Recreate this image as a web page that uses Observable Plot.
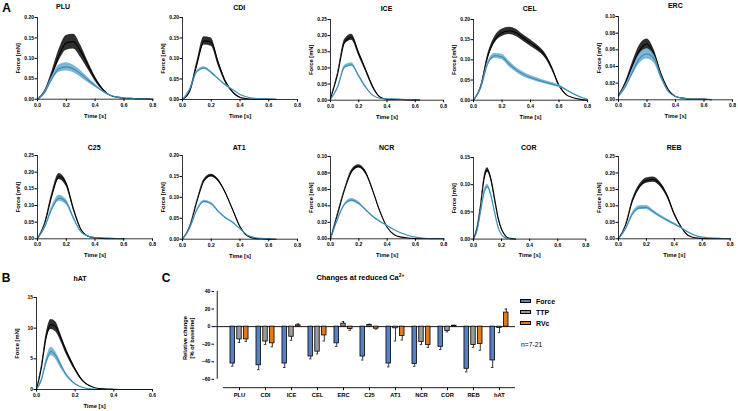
<!DOCTYPE html>
<html><head><meta charset="utf-8">
<script src="https://cdn.jsdelivr.net/npm/d3@7"></script>
<script src="https://cdn.jsdelivr.net/npm/@observablehq/plot@0.6"></script>
<style>
body{margin:0;background:#fff;}
#root{position:relative;width:738px;height:411px;overflow:hidden;font-family:"Liberation Sans",Arial,sans-serif;color:#000;}
</style></head><body><div id="root"></div>
<script>
// ---------- DATA ----------
const t05 = [0,0.05,0.1,0.15,0.2,0.25,0.3,0.35,0.4,0.45,0.5,0.55,0.6,0.65,0.7,0.75,0.8];
const t025 = [0,0.025,0.05,0.075,0.1,0.125,0.15,0.175,0.2,0.225,0.25,0.275,0.3];
const tHat = [0,0.025,0.05,0.075,0.1,0.125,0.15,0.175,0.2,0.225,0.25,0.275,0.3,0.35,0.4,0.5,0.6];

const pluCtrl    = [0,0.018,0.06,0.108,0.138,0.141,0.117,0.083,0.05,0.025,0.01,0.005,0.003,0.002,0.001,0.001,0];
const pluCtrlSem = [0,0.003,0.008,0.014,0.018,0.018,0.015,0.01,0.006,0.003,0.001,0,0,0,0,0,0];
const pluLow     = [0,0.016,0.05,0.075,0.079,0.074,0.062,0.047,0.033,0.02,0.01,0.005,0.003,0.002,0.001,0.001,0];
const pluLowSem  = [0,0.002,0.006,0.009,0.01,0.009,0.008,0.006,0.004,0.002,0.001,0,0,0,0,0,0];

const cdiCtrl    = [0,0.02,0.085,0.143,0.14,0.088,0.043,0.018,0.005,0.002,0.001,0.001,0.001,0];
const cdiCtrlSem = [0,0.002,0.007,0.01,0.01,0.007,0.004,0.002,0.001,0,0,0,0,0];
const cdiLow     = [0,0.025,0.068,0.077,0.066,0.05,0.035,0.024,0.012,0.006,0.003,0.002,0.001,0.001];
const cdiLowSem  = [0,0.001,0.002,0.003,0.003,0.002,0.002,0.001,0.001,0,0,0,0,0];

const iceT       = [0,0.05,0.1,0.15,0.2,0.25,0.3,0.35,0.4,0.45,0.5,0.55,0.6,0.63];
const iceCtrl    = [0.005,0.08,0.18,0.195,0.145,0.093,0.041,0.01,0.003,0.002,0.002,0.001,0.001,0.001];
const iceCtrlSem = [0,0.004,0.008,0.009,0.008,0.006,0.004,0.001,0,0,0,0,0,0];
const iceLow     = [0.002,0.04,0.103,0.11,0.075,0.04,0.015,0.006,0.004,0.004,0.003,0.002,0.001,0.001];
const iceLowSem  = [0,0.002,0.005,0.006,0.005,0.003,0.001,0,0,0,0,0,0,0];

const celCtrl    = [0,0.033,0.108,0.15,0.167,0.172,0.167,0.154,0.142,0.129,0.112,0.08,0.037,0.014,0.006,0.002,0];
const celCtrlSem = [0,0.002,0.006,0.008,0.009,0.009,0.009,0.008,0.008,0.007,0.006,0.005,0.003,0.001,0,0,0];
const celLow     = [0,0.03,0.09,0.11,0.107,0.09,0.075,0.064,0.056,0.05,0.045,0.04,0.035,0.026,0.016,0.008,0.002];
const celLowSem  = [0,0.002,0.005,0.006,0.007,0.007,0.006,0.006,0.005,0.005,0.004,0.004,0.003,0.002,0.001,0.001,0];

const ercCtrl    = [0.005,0.02,0.042,0.06,0.067,0.055,0.03,0.012,0.004,0.002,0.001,0.001,0.001,0];
const ercCtrlSem = [0,0.002,0.004,0.006,0.006,0.005,0.003,0.001,0,0,0,0,0,0];
const ercLow     = [0.004,0.016,0.034,0.05,0.055,0.049,0.027,0.01,0.004,0.002,0.001,0.001,0.001,0];
const ercLowSem  = [0,0.002,0.004,0.006,0.006,0.005,0.003,0.001,0,0,0,0,0,0];

const c25Ctrl    = [0,0.045,0.13,0.187,0.165,0.09,0.03,0.008,0.003,0.001,0,0,0];
const c25CtrlSem = [0,0.003,0.007,0.009,0.008,0.005,0.002,0.001,0,0,0,0,0];
const c25Low     = [0,0.035,0.09,0.122,0.11,0.063,0.022,0.008,0.004,0.003,0.002,0.001,0];
const c25LowSem  = [0,0.003,0.007,0.009,0.008,0.005,0.002,0.001,0,0,0,0,0];

const at1Ctrl    = [0,0.03,0.09,0.14,0.152,0.14,0.11,0.07,0.03,0.008,0.002,0.001,0,0];
const at1CtrlSem = [0,0.001,0.002,0.003,0.003,0.003,0.002,0.002,0.001,0,0,0,0,0];
const at1Low     = [0,0.027,0.07,0.09,0.085,0.066,0.051,0.04,0.025,0.01,0.004,0.002,0.001,0];
const at1LowSem  = [0,0.001,0.002,0.003,0.003,0.002,0.002,0.002,0.001,0,0,0,0,0];

const ncrCtrl    = [0,0.03,0.06,0.082,0.088,0.08,0.058,0.033,0.014,0.005,0.002,0.001,0,0,0,0,0];
const ncrCtrlSem = [0,0.001,0.001,0.002,0.002,0.002,0.001,0.001,0,0,0,0,0,0,0,0,0];
const ncrLow     = [0,0.024,0.042,0.047,0.043,0.035,0.027,0.021,0.016,0.011,0.007,0.004,0.002,0.001,0,0,0];
const ncrLowSem  = [0,0.001,0.001,0.002,0.002,0.001,0.001,0.001,0,0,0,0,0,0,0,0,0];

const corCtrl    = [0,0.02,0.06,0.11,0.127,0.11,0.075,0.04,0.018,0.007,0.002,0.001,0];
const corCtrlSem = [0,0.001,0.002,0.004,0.004,0.004,0.003,0.002,0.001,0,0,0,0];
const corLow     = [0,0.015,0.05,0.085,0.097,0.08,0.05,0.022,0.008,0.003,0.001,0,0];
const corLowSem  = [0,0.001,0.002,0.004,0.004,0.003,0.002,0.001,0,0,0,0,0];

const rebCtrl    = [0,0.04,0.115,0.158,0.177,0.18,0.165,0.13,0.075,0.035,0.01,0.003,0.001,0,0,0,0];
const rebCtrlSem = [0,0.002,0.005,0.007,0.008,0.008,0.007,0.006,0.004,0.002,0.001,0,0,0,0,0,0];
const rebLow     = [0,0.03,0.075,0.094,0.095,0.082,0.068,0.056,0.045,0.033,0.02,0.01,0.005,0.003,0.002,0.001,0];
const rebLowSem  = [0,0.002,0.005,0.006,0.006,0.005,0.004,0.004,0.003,0.002,0.001,0.001,0,0,0,0,0];

const hatCtrl    = [0,3.5,8.5,10.6,10.2,8.5,6.5,4.8,3.3,2.0,1.1,0.6,0.3,0.1,0.05,0,0];
const hatCtrlSem = [0,0.3,0.6,0.8,0.8,0.6,0.5,0.4,0.3,0.2,0.1,0.05,0,0,0,0,0];
const hatLow     = [0,1.5,4.5,6.2,5.5,4.0,2.6,1.6,0.9,0.5,0.25,0.1,0.05,0,0,0,0];
const hatLowSem  = [0,0.2,0.5,0.7,0.6,0.5,0.3,0.2,0.1,0.05,0,0,0,0,0,0,0];

// Panel C
const cats     = ["PLU","CDI","ICE","CEL","ERC","C25","AT1","NCR","COR","REB","hAT"];
const forceVal = [-42,-44,-42,-34,-19,-34,-42,-42.5,-23,-48,-38.5];
const forceErr = [3,5,4.5,2.7,3.4,4,3.8,2.6,3,3.5,8];
const ttpVal   = [-14.5,-17,-11.5,-28.5,3.4,1.9,-1.9,-17.5,-4.9,-21,-1.5];
const ttpErr   = [3.5,3.5,4,2.5,2.3,0.8,14.4,3,1.1,2.5,5.3];
const rvcVal   = [-14.5,-19,1.5,-10,-2.7,-2.3,-10.6,-21,1,-19.8,16];
const rvcErr   = [2.3,4,1.5,6.3,1.5,0.5,4.6,2.6,0.5,7,4];
const seriesNames  = ["Force","TTP","RVc"];
const seriesColors = ["#5b7fc3","#9b9b9b","#e0791f"];

// ---------- LAYOUT HELPERS ----------
const FONT = '"Liberation Sans", Arial, sans-serif';
const root = document.getElementById("root");
function place(el, x, y){ el.style.position="absolute"; el.style.left=x+"px"; el.style.top=y+"px"; root.appendChild(el); }
function label(html, x, y, {size=7, weight="bold", anchor="middle"}={}){
  const d = document.createElement("div");
  d.innerHTML = html;
  const tx = anchor==="middle" ? "-50%" : anchor==="start" ? "0" : "-100%";
  d.style.cssText = `position:absolute;left:${x}px;top:${y}px;font-size:${size}px;font-weight:${weight};white-space:nowrap;line-height:1;transform:translate(${tx},-50%);`;
  root.appendChild(d);
}

function twitch(p){
  const [x0,x1,y0,y1] = p.box;
  const mL=30, mR=10, mT=6, mB=22;
  const rows = p.t.map((t,i)=>({t, c:p.ctrl[i], cs:p.ctrlSem[i], l:p.low[i], ls:p.lowSem[i]}));
  const yTicks = d3.range(0, p.yMax + p.yStep/2, p.yStep);
  const xTicks = d3.range(0, p.xMax + 0.1, 0.2);
  const svg = Plot.plot({
    width:(x1-x0)+mL+mR, height:(y1-y0)+mT+mB,
    marginLeft:mL, marginRight:mR, marginTop:mT, marginBottom:mB,
    style:{fontFamily:FONT, fontSize:"5px", fontWeight:"bold", background:"transparent", overflow:"visible"},
    x:{domain:[0,p.xMax]}, y:{domain:[0,p.yMax]},
    marks:[
      Plot.areaY(rows,{x:"t", y1:d=>Math.max(0,d.c-d.cs), y2:d=>d.c+d.cs, fill:"#2e2e2e", curve:"monotone-x"}),
      Plot.lineY(rows,{x:"t", y:"c", stroke:"#000", strokeWidth:1.1, curve:"monotone-x"}),
      Plot.areaY(rows,{x:"t", y1:d=>Math.max(0,d.l-d.ls), y2:d=>d.l+d.ls, fill:"#6eb0d2", fillOpacity:0.9, curve:"monotone-x"}),
      Plot.lineY(rows,{x:"t", y:"l", stroke:"#3a8ab4", strokeWidth:1.1, curve:"monotone-x"}),
      Plot.ruleX([0],{stroke:"#000", strokeWidth:0.8}),
      Plot.ruleY([0],{stroke:"#000", strokeWidth:0.8}),
      Plot.axisY({ticks:yTicks, tickFormat:p.yFmt, tickSize:2.5, tickPadding:1, label:null}),
      Plot.axisX({ticks:xTicks, tickFormat:d3.format(".1f"), tickSize:2.5, tickPadding:1.5, label:null}),
      Plot.text(["Force [mN]"],{text:d=>d, frameAnchor:"left", rotate:-90, dx:-19, textAnchor:"middle", lineAnchor:"middle", fontSize:5.8}),
      Plot.text(["Time [s]"],{text:d=>d, frameAnchor:"bottom", dy:16.5, textAnchor:"middle", lineAnchor:"middle", fontSize:5.8})
    ]
  });
  place(svg, x0-mL, y0-mT);
  label(p.title, p.titleX ?? (x0+x1)/2, p.titleY, {size:7});
}

const f2 = d3.format(".2f");
const panels = [
  {title:"PLU", t:t05, ctrl:pluCtrl, ctrlSem:pluCtrlSem, low:pluLow, lowSem:pluLowSem, yMax:0.2, yStep:0.05, yFmt:f2, xMax:0.8, box:[36.7,152,17.3,99], titleX:63, titleY:5.5},
  {title:"CDI", t:t05.slice(0,14), ctrl:cdiCtrl, ctrlSem:cdiCtrlSem, low:cdiLow, lowSem:cdiLowSem, yMax:0.2, yStep:0.05, yFmt:f2, xMax:0.8, box:[181.7,296.7,17.3,99.3], titleY:6.5},
  {title:"ICE", t:iceT, ctrl:iceCtrl, ctrlSem:iceCtrlSem, low:iceLow, lowSem:iceLowSem, yMax:0.25, yStep:0.05, yFmt:f2, xMax:0.8, box:[330,443,19.3,100], titleY:7.5},
  {title:"CEL", t:t05, ctrl:celCtrl, ctrlSem:celCtrlSem, low:celLow, lowSem:celLowSem, yMax:0.2, yStep:0.05, yFmt:f2, xMax:0.8, box:[472.7,586.7,19.3,100], titleY:7.5},
  {title:"ERC", t:t05.slice(0,14), ctrl:ercCtrl, ctrlSem:ercCtrlSem, low:ercLow, lowSem:ercLowSem, yMax:0.1, yStep:0.02, yFmt:f2, xMax:0.8, box:[618.3,732.3,16,99.3], titleY:4.5},
  {title:"C25", t:t05.slice(0,13), ctrl:c25Ctrl, ctrlSem:c25CtrlSem, low:c25Low, lowSem:c25LowSem, yMax:0.25, yStep:0.05, yFmt:f2, xMax:0.8, box:[36.7,151.7,155,238.3], titleY:147},
  {title:"AT1", t:t05.slice(0,14), ctrl:at1Ctrl, ctrlSem:at1CtrlSem, low:at1Low, lowSem:at1LowSem, yMax:0.2, yStep:0.05, yFmt:f2, xMax:0.8, box:[181.7,296.7,155,238.7], titleY:147},
  {title:"NCR", t:t05, ctrl:ncrCtrl, ctrlSem:ncrCtrlSem, low:ncrLow, lowSem:ncrLowSem, yMax:0.1, yStep:0.02, yFmt:f2, xMax:0.8, box:[330,443.3,156,238.3], titleY:147},
  {title:"COR", t:t025, ctrl:corCtrl, ctrlSem:corCtrlSem, low:corLow, lowSem:corLowSem, yMax:0.15, yStep:0.05, yFmt:f2, xMax:0.8, box:[472.7,585,156.7,238.3], titleY:147},
  {title:"REB", t:t05, ctrl:rebCtrl, ctrlSem:rebCtrlSem, low:rebLow, lowSem:rebLowSem, yMax:0.25, yStep:0.05, yFmt:f2, xMax:0.8, box:[618.3,730,156,238.3], titleY:147},
  {title:"hAT", t:tHat, ctrl:hatCtrl, ctrlSem:hatCtrlSem, low:hatLow, lowSem:hatLowSem, yMax:15, yStep:5, yFmt:d3.format("d"), xMax:0.6, box:[35.7,151.7,297.3,389.3], titleX:80, titleY:278}
];
panels.forEach(twitch);

// ---------- PANEL C ----------
(function(){
  const fx0=214, fx1=515, fy0=290.7, fy1=386.9;
  const mL=34, mR=4, mT=6, mB=16;
  const inL = 9;
  const bw = (fx1-fx0-inL)/cats.length;
  const barW = 5, capW = 3, off = 6.8;
  const vals = [forceVal, ttpVal, rvcVal], errs = [forceErr, ttpErr, rvcErr];
  const marks = [
    Plot.ruleY([0],{stroke:"#000", strokeWidth:0.9}),
    Plot.ruleY([-69.5],{stroke:"#000", strokeWidth:0.9, insetLeft:inL}),
    Plot.ruleX([cats[0]],{x:d=>d, y1:-60, y2:40, dx:-(inL+bw/2), stroke:"#000", strokeWidth:0.9}),
  ];
  vals.forEach((v,s)=>{
    const rows = cats.map((c,i)=>({c, v:v[i], e:v[i] + (v[i] < 0 ? -errs[s][i] : errs[s][i])}));
    const dx = (s-1)*off;
    marks.push(Plot.ruleX(rows,{x:"c", y1:"v", y2:"e", dx, stroke:"#000", strokeWidth:0.8}));
    marks.push(Plot.tickY(rows,{y:"e", x:"c", dx, insetLeft:(bw-capW)/2, insetRight:(bw-capW)/2, stroke:"#000", strokeWidth:0.8}));
    marks.push(Plot.barY(rows,{x:"c", y1:0, y2:"v", dx, insetLeft:(bw-barW)/2, insetRight:(bw-barW)/2, fill:seriesColors[s], stroke:"#000", strokeWidth:0.8}));
  });
  marks.push(
    Plot.axisY({ticks:[-60,-40,-20,0,20,40], tickSize:2.5, tickPadding:1.5, label:null, fontSize:5.2}),
    Plot.axisX({tickSize:3, tickPadding:2.5, label:null, fontSize:5.8}),
    Plot.text(["Relative change\n[% of baseline]"],{text:d=>d, frameAnchor:"left", rotate:-90, dx:-26, dy:-1.5, textAnchor:"middle", lineAnchor:"middle", lineHeight:1.05, fontSize:5.8})
  );
  const svg = Plot.plot({
    width:(fx1-fx0)+mL+mR, height:(fy1-fy0)+mT+mB,
    marginLeft:mL, marginRight:mR, marginTop:mT, marginBottom:mB,
    style:{fontFamily:FONT, fontSize:"5.5px", fontWeight:"bold", background:"transparent", overflow:"visible"},
    x:{type:"band", domain:cats, padding:0, insetLeft:inL},
    y:{domain:[-69.5,40]},
    marks
  });
  place(svg, fx0-mL, fy0-mT);

  label("Changes at reduced Ca<sup style=\"font-size:5px;vertical-align:3px\">2+</sup>", 316.5, 276.5, {size:7.4, anchor:"start"});
  // legend
  seriesNames.forEach((n,i)=>{
    const y = 300.7 + i*11;
    const r = document.createElement("div");
    r.style.cssText = `position:absolute;left:520px;top:${y-2}px;width:9px;height:2.6px;background:${seriesColors[i]};border:0.8px solid #000;`;
    root.appendChild(r);
    label(n, 536, y, {size:7, anchor:"start"});
  });
  label("n=7-21", 521, 345, {size:6.8, weight:"normal", anchor:"start"});
})();

// panel letters
label("A", 6.5, 7.5, {size:12});
label("B", 6, 278, {size:12});
label("C", 166, 278, {size:12});
</script></body></html>
